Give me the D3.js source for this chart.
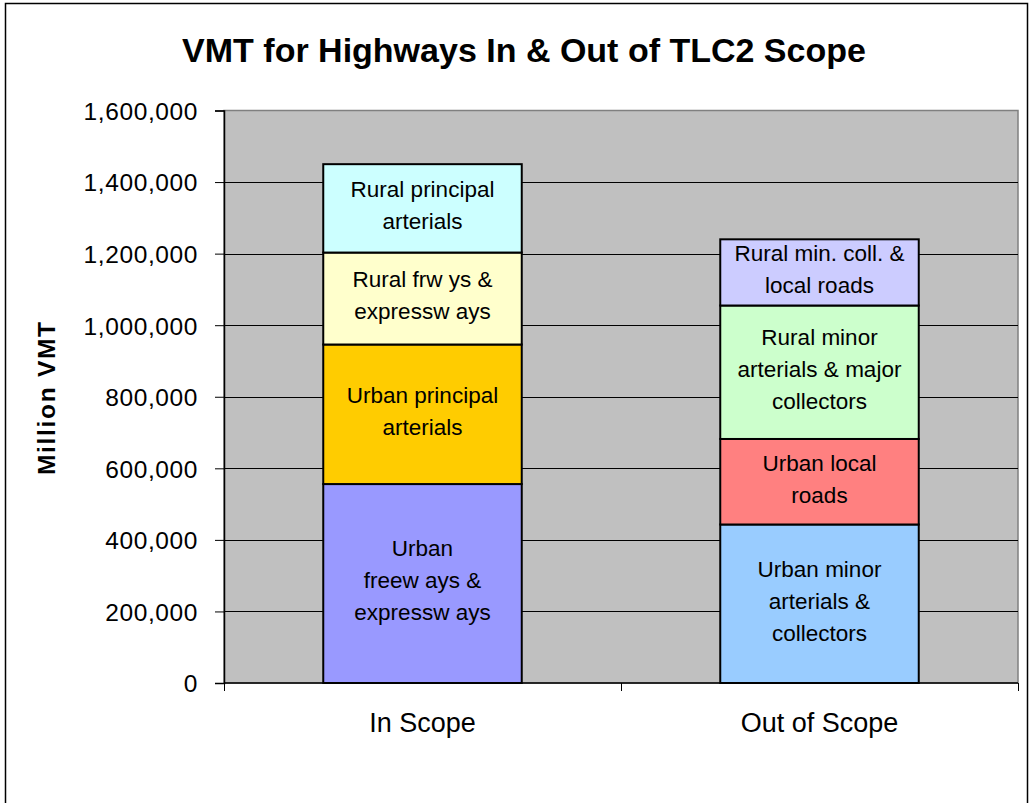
<!DOCTYPE html>
<html>
<head>
<meta charset="utf-8">
<script src="https://cdn.jsdelivr.net/npm/d3@7"></script>
<style>
  body { margin: 0; background: #fff; }
  text { font-family: Arial, "Liberation Sans", sans-serif; fill: #000; }
</style>
</head>
<body>
<script>
// chart size
let w = 1031;
let h = 803;

// data
let categories = ["In Scope", "Out of Scope"];
let inScopeLabels = [
    ["Urban", "freew ays &", "expressw ays"],
    ["Urban principal", "arterials"],
    ["Rural frw ys &", "expressw ays"],
    ["Rural principal", "arterials"]
];
let inScopeValues = [556000, 390000, 257000, 247000];
let inScopeColors = ["#9999FF", "#FFCC00", "#FFFFCC", "#CCFFFF"];

let outScopeLabels = [
    ["Urban minor", "arterials &", "collectors"],
    ["Urban local", "roads"],
    ["Rural minor", "arterials & major", "collectors"],
    ["Rural min. coll. &", "local roads"]
];
let outScopeValues = [443000, 239000, 373000, 185000];
let outScopeColors = ["#99CCFF", "#FF8080", "#CCFFCC", "#CCCCFF"];

let yTicks = [0, 200000, 400000, 600000, 800000, 1000000, 1200000, 1400000, 1600000];

// plot area
let pLeft = 224, pRight = 1018, pTop = 110.5, pBottom = 683;

let x = d3.scaleBand()
    .domain(categories)
    .range([pLeft, pRight])
    .paddingInner(0.5)
    .paddingOuter(0.25);

let y = d3.scaleLinear()
    .domain([0, 1600000])
    .range([pBottom, pTop]);

let svg = d3.select("body")
    .append("svg")
    .attr("width", w)
    .attr("height", h);

// outer chart border
svg.append("rect")
    .attr("x", 5.5)
    .attr("y", 3.5)
    .attr("width", 1022)
    .attr("height", 820)
    .attr("fill", "#fff")
    .attr("stroke", "#000")
    .attr("stroke-width", 1.5);

// plot background
svg.append("rect")
    .attr("x", pLeft)
    .attr("y", pTop)
    .attr("width", pRight - pLeft)
    .attr("height", pBottom - pTop)
    .attr("fill", "#C0C0C0")
    .attr("stroke", "#808080")
    .attr("stroke-width", 1.5);

// gridlines
svg.append("g")
    .selectAll("line")
    .data(yTicks.filter(d => d > 0 && d < 1600000))
    .enter()
    .append("line")
    .attr("x1", pLeft)
    .attr("x2", pRight)
    .attr("y1", d => Math.round(y(d)) + 0.5)
    .attr("y2", d => Math.round(y(d)) + 0.5)
    .attr("stroke", "#000")
    .attr("stroke-width", 1);

// build stacked segments
let groups = [
    { cat: categories[0], values: inScopeValues, labels: inScopeLabels, colors: inScopeColors },
    { cat: categories[1], values: outScopeValues, labels: outScopeLabels, colors: outScopeColors }
];
let segs = [];
groups.forEach(function(g) {
    let cum = 0;
    g.values.forEach(function(v, i) {
        segs.push({ cat: g.cat, y0: cum, y1: cum + v, label: g.labels[i], color: g.colors[i] });
        cum += v;
    });
});

svg.append("g")
    .selectAll("rect")
    .data(segs)
    .enter()
    .append("rect")
    .attr("x", d => x(d.cat))
    .attr("width", x.bandwidth())
    .attr("y", d => y(d.y1))
    .attr("height", d => y(d.y0) - y(d.y1))
    .attr("fill", d => d.color)
    .attr("stroke", "#000")
    .attr("stroke-width", 2);

// segment labels
let lineH = 32;
let labels = svg.append("g")
    .selectAll("text")
    .data(segs)
    .enter()
    .append("text")
    .attr("text-anchor", "middle")
    .style("font-size", "22.5px")
    .attr("x", d => x(d.cat) + x.bandwidth() / 2)
    .attr("y", d => (y(d.y0) + y(d.y1)) / 2 - 3 - (d.label.length - 1) * lineH / 2);

labels.selectAll("tspan")
    .data(d => d.label.map((t, i) => ({ t: t, i: i, d: d })))
    .enter()
    .append("tspan")
    .attr("x", o => x(o.d.cat) + x.bandwidth() / 2)
    .attr("dy", o => o.i === 0 ? "0.35em" : lineH)
    .text(o => o.t);

// y axis
let yAxis = d3.axisLeft(y)
    .tickValues(yTicks)
    .tickFormat(d3.format(","))
    .tickSizeOuter(0)
    .tickSize(9)
    .tickPadding(17);

let yg = svg.append("g")
    .attr("transform", "translate(" + pLeft + ",0)")
    .call(yAxis);
yg.select(".domain").attr("stroke", "#000").attr("stroke-width", 1.5);
yg.selectAll(".tick line").attr("stroke", "#000");
yg.selectAll(".tick text")
    .style("font-size", "24.5px")
    .style("letter-spacing", "0.6px")
    .attr("dy", "0.36em");
yg.attr("font-family", null).attr("font-size", null);

// x axis, ticks between categories
svg.append("line")
    .attr("x1", pLeft)
    .attr("x2", pRight)
    .attr("y1", pBottom)
    .attr("y2", pBottom)
    .attr("stroke", "#000")
    .attr("stroke-width", 1.5);

svg.append("g")
    .selectAll("line")
    .data([pLeft, (pLeft + pRight) / 2, pRight])
    .enter()
    .append("line")
    .attr("x1", d => Math.round(d) + 0.5)
    .attr("x2", d => Math.round(d) + 0.5)
    .attr("y1", pBottom)
    .attr("y2", pBottom + 8)
    .attr("stroke", "#000");

svg.append("g")
    .selectAll("text")
    .data(categories)
    .enter()
    .append("text")
    .attr("text-anchor", "middle")
    .style("font-size", "27px")
    .attr("x", d => x(d) + x.bandwidth() / 2)
    .attr("y", 732)
    .text(d => d);

// title
svg.append("text")
    .attr("x", 524)
    .attr("y", 62)
    .attr("text-anchor", "middle")
    .style("font-size", "34px")
    .style("font-weight", "bold")
    .text("VMT for Highways In & Out of TLC2 Scope");

// y axis title
svg.append("text")
    .attr("transform", "translate(55,398.5) rotate(-90)")
    .attr("text-anchor", "middle")
    .style("font-size", "24.5px")
    .style("font-weight", "bold")
    .attr("textLength", 153)
    .attr("lengthAdjust", "spacing")
    .text("Million VMT");
</script>
</body>
</html>
